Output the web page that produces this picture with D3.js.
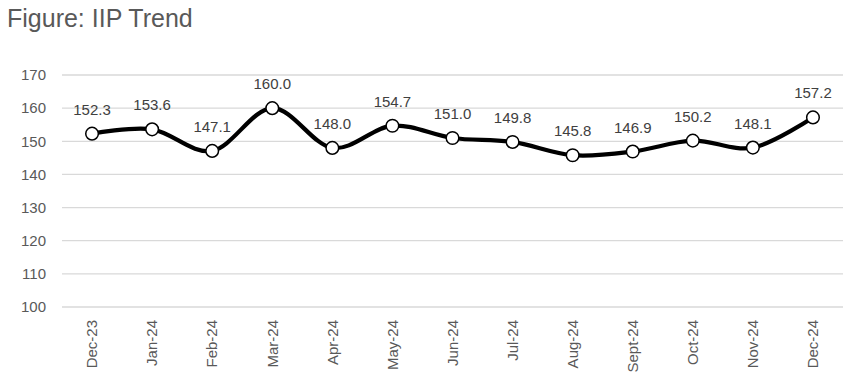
<!DOCTYPE html>
<html><head><meta charset="utf-8">
<script src="https://cdn.jsdelivr.net/npm/d3@7"></script>
<style>body{margin:0;background:#fff}svg{display:block;font-family:Arial,"Liberation Sans",sans-serif}</style>
</head><body><div id="chart"></div>
<script>
const categories = ["Dec-23","Jan-24","Feb-24","Mar-24","Apr-24","May-24","Jun-24","Jul-24","Aug-24","Sept-24","Oct-24","Nov-24","Dec-24"];
const values = [152.3,153.6,147.1,160.0,148.0,154.7,151.0,149.8,145.8,146.9,150.2,148.1,157.2];
const yTicks = [100,110,120,130,140,150,160,170];
const title = "Figure: IIP Trend";

const W = 855, H = 388;
const m = {left:62, right:12, top:75, bottom:81};
const svg = d3.select("#chart").append("svg").attr("width",W).attr("height",H);

svg.append("text").attr("x",7).attr("y",27).attr("fill","#595959")
  .style("font-size","25px").text(title);

const x = d3.scaleBand().domain(categories).range([m.left, W-m.right]);
const y = d3.scaleLinear().domain([100,170]).range([H-m.bottom, m.top]);

const g = svg.append("g");
g.selectAll("line.grid").data(yTicks).join("line").attr("class","grid")
  .attr("x1",m.left).attr("x2",W-m.right)
  .attr("y1",d=>y(d)).attr("y2",d=>y(d))
  .attr("stroke","#d9d9d9").attr("stroke-width",1.3);

const yAxis = svg.append("g").attr("transform",`translate(${m.left},0)`)
  .call(d3.axisLeft(y).tickValues(yTicks).tickSize(0).tickPadding(16));
yAxis.select(".domain").remove();
yAxis.selectAll("text").attr("fill","#595959").style("font-size","15px").style("font-family","Arial, 'Liberation Sans', sans-serif");

const xAxis = svg.append("g").attr("transform",`translate(0,${H-m.bottom})`)
  .call(d3.axisBottom(x).tickSize(0).tickPadding(0));
xAxis.select(".domain").remove();
xAxis.selectAll("text").attr("fill","#595959").style("font-size","15px").style("font-family","Arial, 'Liberation Sans', sans-serif")
  .attr("transform","rotate(-90)").attr("text-anchor","end").attr("x",-13).attr("y",0).attr("dy","0.35em");

const cx = d => x(d) + x.bandwidth()/2;
const line = d3.line().x((d,i)=>cx(categories[i])).y(d=>y(d)).curve(d3.curveCatmullRom.alpha(0));
svg.append("path").datum(values).attr("d",line).attr("fill","none")
  .attr("stroke","#000").attr("stroke-width",4.2).attr("stroke-linejoin","round");

svg.selectAll("circle.pt").data(values).join("circle").attr("class","pt")
  .attr("cx",(d,i)=>cx(categories[i])).attr("cy",d=>y(d)).attr("r",6.3)
  .attr("fill","#fff").attr("stroke","#000").attr("stroke-width",1.5);

svg.selectAll("text.lbl").data(values).join("text").attr("class","lbl")
  .attr("x",(d,i)=>cx(categories[i])).attr("y",d=>y(d)-19)
  .attr("text-anchor","middle").attr("fill","#404040").style("font-size","15px")
  .text(d=>d.toFixed(1));
</script></body></html>
